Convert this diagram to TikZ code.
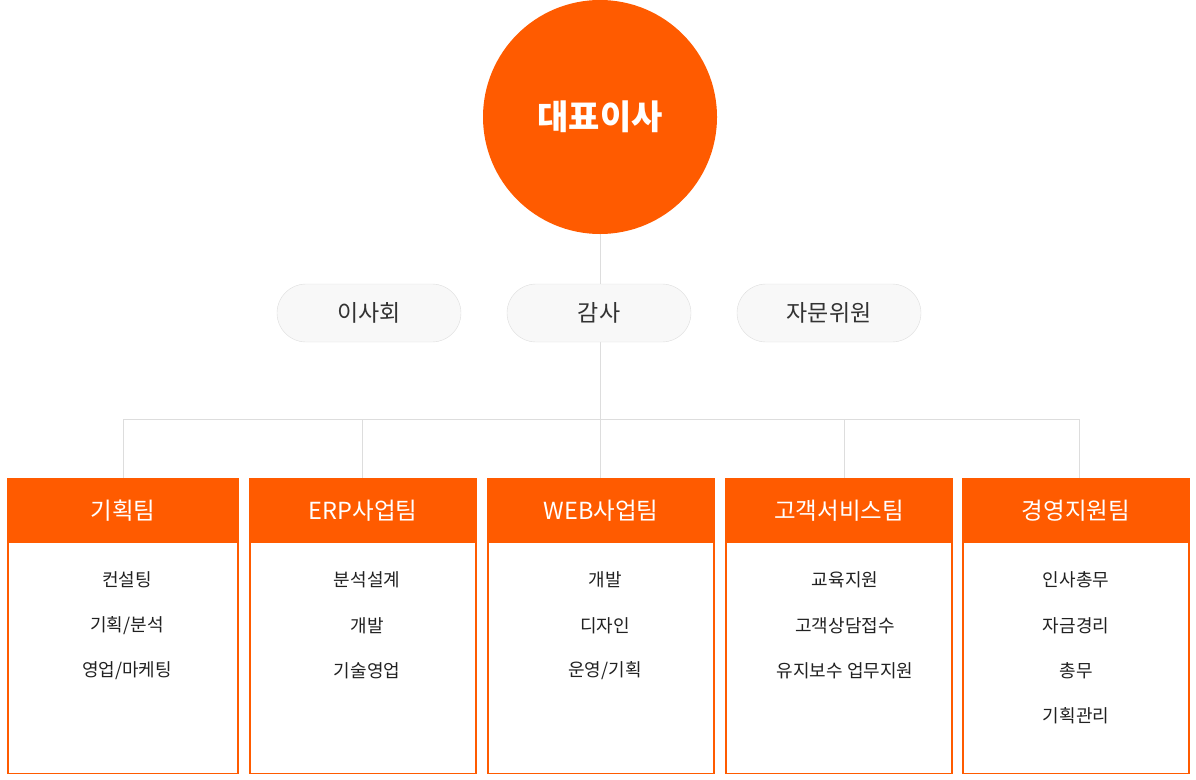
\documentclass[tikz,border=0pt]{standalone}
\usepackage{fontspec}
\setmainfont{Noto Sans CJK KR}
\usetikzlibrary{positioning, backgrounds}
\usepackage{xcolor}
\definecolor{ceoorange}{RGB}{255, 91, 0}
\definecolor{linegray}{RGB}{221, 221, 221}
\definecolor{pillgray}{RGB}{248, 248, 248}
\definecolor{textgray}{RGB}{51, 51, 51}

\begin{document}
\begin{tikzpicture}[
    x=1pt, y=-1pt,
    ceo/.style={
        circle,
        fill=ceoorange,
        minimum size=234pt,
        inner sep=0pt,
        text=white,
        font=\bfseries\fontsize{34}{40}\selectfont
    },
    pill/.style={
        rectangle,
        rounded corners=28.9pt,
        draw=linegray,
        fill=pillgray,
        minimum width=184pt,
        minimum height=58pt,
        text=textgray,
        font=\fontsize{23}{27}\selectfont
    },
    team/.style={
        rectangle,
        draw=ceoorange,
        line width=1.2pt,
        fill=white,
        minimum width=226pt,
        minimum height=295pt,
        inner sep=0pt,
        anchor=north
    },
    head/.style={
        rectangle,
        fill=ceoorange,
        minimum width=226pt,
        minimum height=65pt,
        anchor=north,
        text=white,
        font=\fontsize{23.5}{28}\selectfont
    },
    item/.style={text=black!87, font=\fontsize{18}{22}\selectfont},
    line/.style={draw=linegray, line width=1pt}
]
    \useasboundingbox (0,0) rectangle (1196,779);

    % Nodos
    \node [ceo] (ceo) at (600,117) {대표이사};

    \node [pill] (board) at (369,313) {이사회};
    \node [pill] (audit) at (599,313) {감사};
    \node [pill] (advisor) at (829,313) {자문위원};

    \node [team, minimum width=230pt] (kihoek) at (123,478) {};
    \node [team] (erp) at (363,478) {};
    \node [team] (web) at (601,478) {};
    \node [team] (cs) at (839,478) {};
    \node [team] (mgmt) at (1076,478) {};

    \node [head, minimum width=230pt] (kihoekhead) at (kihoek.north) {기획팀};
    \node [head] (erphead) at (erp.north) {ERP사업팀};
    \node [head] (webhead) at (web.north) {WEB사업팀};
    \node [head] (cshead) at (cs.north) {고객서비스팀};
    \node [head] (mgmthead) at (mgmt.north) {경영지원팀};

    % 업무 항목
    \node [item] (k1) at (127,580) {컨설팅};
    \node [item] (k2) at (127,626) {기획/분석};
    \node [item] (k3) at (127,671) {영업/마케팅};

    \node [item] (e1) at (367,580) {분석설계};
    \node [item] (e2) at (367,626) {개발};
    \node [item] (e3) at (367,671) {기술영업};

    \node [item] (w1) at (605,580) {개발};
    \node [item] (w2) at (605,626) {디자인};
    \node [item] (w3) at (605,671) {운영/기획};

    \node [item] (c1) at (845,580) {교육지원};
    \node [item] (c2) at (845,626) {고객상담접수};
    \node [item] (c3) at (845,671) {유지보수 업무지원};

    \node [item] (m1) at (1076,580) {인사총무};
    \node [item] (m2) at (1076,626) {자금경리};
    \node [item] (m3) at (1076,671) {총무};
    \node [item] (m4) at (1076,716) {기획관리};

    % Conexiones
    \coordinate (tap1) at (123,419);
    \coordinate (tap2) at (362,419);
    \coordinate (tap4) at (844,419);
    \coordinate (tap5) at (1079,419);

    \begin{pgfonlayer}{background}
        \draw [line] (ceo.south) -- (ceo.south |- web.north);
        \draw [line] (tap1) -- (tap5);
        \draw [line] (tap1) -- (tap1 |- kihoek.north);
        \draw [line] (tap2) -- (tap2 |- erp.north);
        \draw [line] (tap4) -- (tap4 |- cs.north);
        \draw [line] (tap5) -- (tap5 |- mgmt.north);
    \end{pgfonlayer}

\end{tikzpicture}
\end{document}
